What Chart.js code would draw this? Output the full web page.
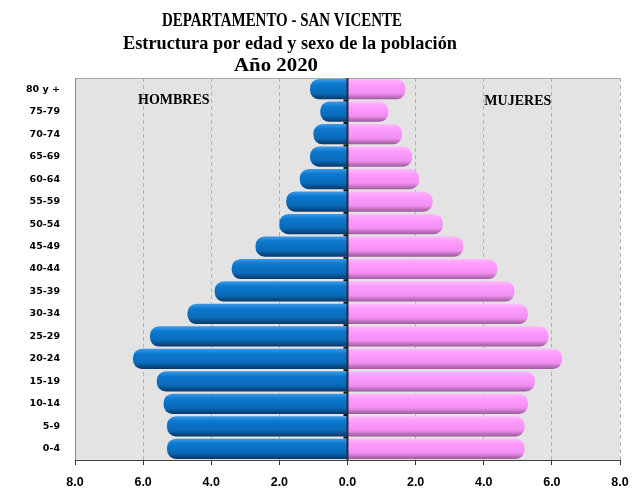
<!DOCTYPE html>
<html>
<head>
<meta charset="utf-8">
<script src="https://cdn.jsdelivr.net/npm/chart.js@4"></script>
<style>
  html, body { margin: 0; padding: 0; background: #fff; }
  #wrap { width: 632px; height: 495px; }
</style>
</head>
<body>
<div id="wrap"><canvas id="myChart" width="632" height="495"></canvas></div>
<script>
const ageGroups = ['80 y +', '75-79', '70-74', '65-69', '60-64', '55-59', '50-54', '45-49',
  '40-44', '35-39', '30-34', '25-29', '20-24', '15-19', '10-14', '5-9', '0-4'];
const hombres = [1.1, 0.8, 1.0, 1.1, 1.4, 1.8, 2.0, 2.7, 3.4, 3.9, 4.7, 5.8, 6.3, 5.6, 5.4, 5.3, 5.3];
const mujeres = [1.7, 1.2, 1.6, 1.9, 2.1, 2.5, 2.8, 3.4, 4.4, 4.9, 5.3, 5.9, 6.3, 5.5, 5.3, 5.2, 5.2];
const xTicks = [-8, -6, -4, -2, 0, 2, 4, 6, 8];
const titleLines = ['DEPARTAMENTO - SAN VICENTE', 'Estructura por edad y sexo de la población', 'Año 2020'];

const barPct = 0.9;

// vertical shading for each bar, computed from the y scale
function barShade(stops) {
  return function(ctx) {
    const chart = ctx.chart;
    const yS = chart.scales.y;
    if (!yS || ctx.dataIndex === undefined) return stops[1];
    const c = yS.getPixelForValue(ctx.dataIndex);
    const h = (yS.height / ageGroups.length) * barPct;
    if (!isFinite(c) || !isFinite(h) || h <= 0) return stops[1];
    const g = chart.ctx.createLinearGradient(0, c - h / 2, 0, c + h / 2);
    g.addColorStop(0, stops[0]);
    g.addColorStop(0.25, stops[1]);
    g.addColorStop(0.7, stops[2]);
    g.addColorStop(1, stops[3]);
    return g;
  };
}

const pyramidDecor = {
  id: 'pyramidDecor',
  beforeDraw(chart) {
    const { ctx, chartArea: a } = chart;
    ctx.save();
    ctx.fillStyle = '#e3e3e3';
    ctx.fillRect(a.left, a.top, a.right - a.left, a.bottom - a.top);
    ctx.restore();
  },
  afterDatasetsDraw(chart) {
    const { ctx, chartArea: a, scales } = chart;
    const x0 = scales.x.getPixelForValue(0);
    ctx.save();
    // frame
    ctx.strokeStyle = '#a8a8a8';
    ctx.lineWidth = 1;
    ctx.beginPath();
    ctx.moveTo(a.left, a.top + 0.5);
    ctx.lineTo(a.right, a.top + 0.5);
    ctx.stroke();
    ctx.strokeStyle = '#8a8a8a';
    ctx.beginPath();
    ctx.moveTo(a.left + 0.5, a.top);
    ctx.lineTo(a.left + 0.5, a.bottom);
    ctx.stroke();
    ctx.strokeStyle = '#404040';
    ctx.beginPath();
    ctx.moveTo(a.left, a.bottom + 0.5);
    ctx.lineTo(a.right, a.bottom + 0.5);
    ctx.stroke();
    // zero line
    ctx.strokeStyle = '#2a2a40';
    ctx.lineWidth = 2;
    ctx.beginPath();
    ctx.moveTo(x0, a.top);
    ctx.lineTo(x0, a.bottom);
    ctx.stroke();
    // small ticks on the zero line between age groups
    ctx.strokeStyle = '#111';
    const yS = scales.y;
    for (let i = 0; i < ageGroups.length - 1; i++) {
      const yb = (yS.getPixelForValue(i) + yS.getPixelForValue(i + 1)) / 2;
      ctx.beginPath();
      ctx.moveTo(x0 - 4, yb);
      ctx.lineTo(x0, yb);
      ctx.stroke();
    }
    // side labels
    ctx.fillStyle = '#000';
    ctx.font = 'bold 14px "Liberation Serif", serif';
    ctx.textAlign = 'center';
    ctx.textBaseline = 'middle';
    ctx.fillText('HOMBRES', scales.x.getPixelForValue(-5.1), a.top + 22);
    ctx.fillText('MUJERES', scales.x.getPixelForValue(5.0), a.top + 23);
    ctx.restore();
  },
  afterDraw(chart) {
    const { ctx } = chart;
    ctx.save();
    ctx.fillStyle = '#000';
    ctx.font = 'bold 19px "Liberation Serif", serif';
    ctx.textAlign = 'center';
    ctx.textBaseline = 'alphabetic';
    const cx = [282, 290, 276];
    const widths = [240, 334, 84];
    titleLines.forEach((t, i) => {
      const sx = widths[i] / ctx.measureText(t).width;
      ctx.save();
      ctx.translate(cx[i], 26 + i * 22.5);
      ctx.scale(sx, 1);
      ctx.fillText(t, 0, 0);
      ctx.restore();
    });
    ctx.restore();
  }
};

const data = {
  labels: ageGroups,
  datasets: [
    {
      label: 'Hombres',
      data: hombres.map(v => -v),
      backgroundColor: barShade(['#3d9ae6', '#0b78cf', '#0a6ab8', '#0a3766']),
      borderRadius: 9,
      borderSkipped: 'start',
      barPercentage: barPct,
      categoryPercentage: 1.0
    },
    {
      label: 'Mujeres',
      data: mujeres,
      backgroundColor: barShade(['#ffbaff', '#ff9cff', '#f38ff3', '#9a5a9a']),
      borderRadius: 9,
      borderSkipped: 'start',
      barPercentage: barPct,
      categoryPercentage: 1.0
    }
  ]
};

const options = {
  indexAxis: 'y',
  responsive: false,
  animation: false,
  layout: { padding: { top: 78, right: 4, bottom: -5, left: 0 } },
  scales: {
    x: {
      stacked: true,
      min: -8,
      max: 8,
      afterBuildTicks(scale) {
        scale.ticks = xTicks.map(v => ({ value: v }));
      },
      afterFit(scale) { scale.paddingRight = 12; },
      ticks: {
        callback: v => Math.abs(v).toFixed(1),
        color: '#000',
        font: { family: '"Liberation Sans", Arial, sans-serif', size: 12.5, weight: 'bold' },
        padding: 10,
        maxRotation: 0
      },
      grid: {
        color: c => (c.tick && (c.tick.value === 0 || c.tick.value === -8)) ? 'rgba(0,0,0,0)' : '#b3b3b3',
        lineWidth: 1,
        drawTicks: true,
        tickLength: 5,
        tickColor: '#333',
        tickBorderDash: []
      },
      border: { display: false, dash: [4, 3] }
    },
    y: {
      stacked: true,
      afterFit(scale) { scale.width = 75; },
      ticks: {
        color: '#000',
        font: { family: '"DejaVu Sans", sans-serif', size: 9.5, weight: 'bold' },
        padding: 15
      },
      grid: { display: false, drawTicks: false },
      border: { display: false }
    }
  },
  plugins: {
    legend: { display: false },
    title: { display: false },
    tooltip: { enabled: false }
  }
};

const config = {
  type: 'bar',
  data: data,
  options: options,
  plugins: [pyramidDecor]
};

const myChart = new Chart(document.getElementById('myChart'), config);
</script>
</body>
</html>
